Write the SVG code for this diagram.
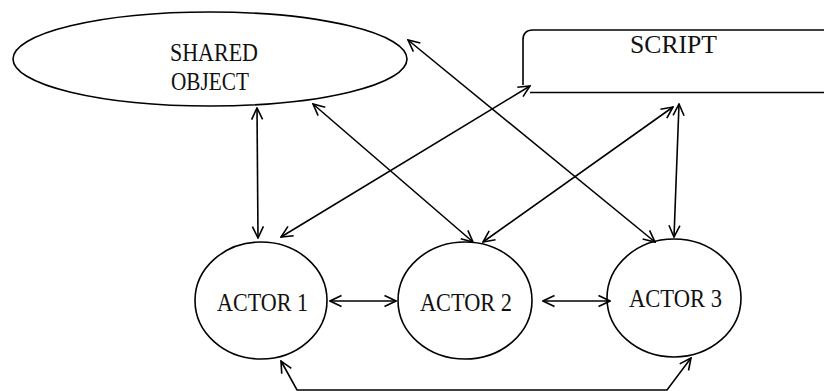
<svg xmlns="http://www.w3.org/2000/svg" width="824" height="391" viewBox="0 0 824 391">
<style>
.shape{fill:#fff;stroke:#000;stroke-width:1.6}
.lbl{font-family:"Liberation Serif","Times New Roman",serif;font-size:24.5px;fill:#111}
.conn{fill:none;stroke:#000;stroke-width:1.6;marker-start:url(#ah);marker-end:url(#ah)}
</style>
<defs>
<marker id="ah" viewBox="0 0 14 14" refX="13" refY="7" markerWidth="14" markerHeight="14" markerUnits="userSpaceOnUse" orient="auto-start-reverse">
<path d="M1.5,1.5 L13,7 L1.5,12.5" fill="none" stroke="#000" stroke-width="1.6"/>
</marker>
</defs>
<rect width="824" height="391" fill="#fff"/>
<g id="shared-object">
<ellipse class="shape" cx="210" cy="59" rx="197" ry="47"/>
<text class="lbl" x="170" y="61" textLength="88" lengthAdjust="spacingAndGlyphs">SHARED</text>
<text class="lbl" x="171" y="90" textLength="78" lengthAdjust="spacingAndGlyphs">OBJECT</text>
</g>
<g id="script">
<path class="shape" fill="none" d="M523,85 V40 Q523,30 533,30 H826"/>
<path class="shape" fill="none" d="M530,92.5 H826"/>
<text class="lbl" x="630" y="53" textLength="87" lengthAdjust="spacingAndGlyphs">SCRIPT</text>
</g>
<g id="actor1">
<ellipse class="shape" cx="261" cy="300.5" rx="66" ry="58.5"/>
<text class="lbl" x="217" y="311" textLength="91" lengthAdjust="spacingAndGlyphs">ACTOR 1</text>
</g>
<g id="actor2">
<ellipse class="shape" cx="465" cy="300.5" rx="67" ry="58.5"/>
<text class="lbl" x="420" y="311" textLength="92" lengthAdjust="spacingAndGlyphs">ACTOR 2</text>
</g>
<g id="actor3">
<ellipse class="shape" cx="674" cy="298" rx="67" ry="59"/>
<text class="lbl" x="629" y="307" textLength="93" lengthAdjust="spacingAndGlyphs">ACTOR 3</text>
</g>
<g id="connectors">
<line class="conn" x1="257" y1="108" x2="258" y2="238"/>
<line class="conn" x1="313" y1="104" x2="473" y2="242"/>
<line class="conn" x1="281" y1="237" x2="530" y2="86"/>
<line class="conn" x1="483" y1="242" x2="673" y2="107"/>
<line class="conn" x1="679" y1="104" x2="674" y2="237"/>
<line class="conn" x1="408" y1="40" x2="655" y2="242"/>
<line class="conn" x1="330" y1="301" x2="396" y2="301"/>
<line class="conn" x1="543" y1="301" x2="610" y2="301"/>
<polyline class="conn" points="281,361 297,390 667,390 691,358"/>
</g>
</svg>
